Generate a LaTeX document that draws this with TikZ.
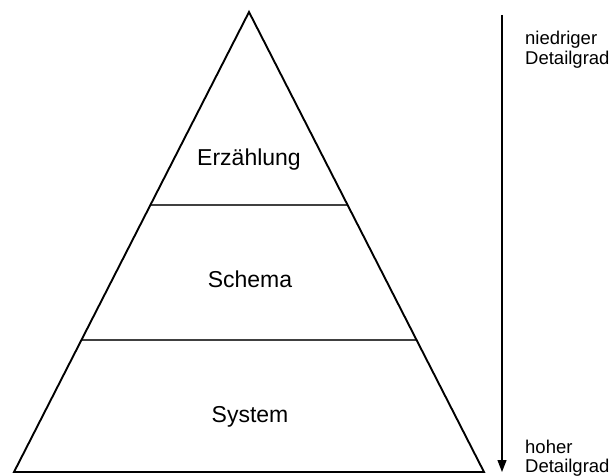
\documentclass[tikz,border=0pt]{standalone}
\usepackage{fontspec}
\setmainfont{Liberation Sans}
\usetikzlibrary{arrows.meta}
\begin{document}
\begin{tikzpicture}[x=1pt,y=-1pt,
  edge/.style={line width=1.9pt,line join=miter},
  level/.style={line width=1.6pt,draw=black!75},
  lab/.style={anchor=base,inner sep=0pt,font=\fontsize{23}{27}\selectfont},
  side/.style={anchor=base west,inner sep=0pt,font=\fontsize{18.5}{21}\selectfont}]
\useasboundingbox (0,0) rectangle (610,476);
\coordinate (apex) at (249,12);
\coordinate (bl) at (14,472);
\coordinate (br) at (484,472);
\coordinate (l1a) at (151,205);
\coordinate (l1b) at (347,205);
\coordinate (l2a) at (82,340);
\coordinate (l2b) at (416,340);
\draw[level] (l1a) -- (l1b);
\draw[level] (l2a) -- (l2b);
\draw[edge] (bl) -- (apex) -- (br) -- cycle;
\node[lab] (erz) at (249,165) {Erzählung};
\node[lab] (sch) at (250,287) {Schema};
\node[lab] (sys) at (250,422) {System};
\coordinate (atop) at (502,15);
\coordinate (abot) at (502,472);
\draw[line width=1.3pt,-{Triangle[length=12pt,width=9pt]}] (atop) -- (abot);
\node[side] (n1) at (525,45) {niedriger};
\node[side] (n2) at (525,65) {Detailgrad};
\node[side] (h1) at (525,453) {hoher};
\node[side] (h2) at (525,472) {Detailgrad};
\end{tikzpicture}
\end{document}
